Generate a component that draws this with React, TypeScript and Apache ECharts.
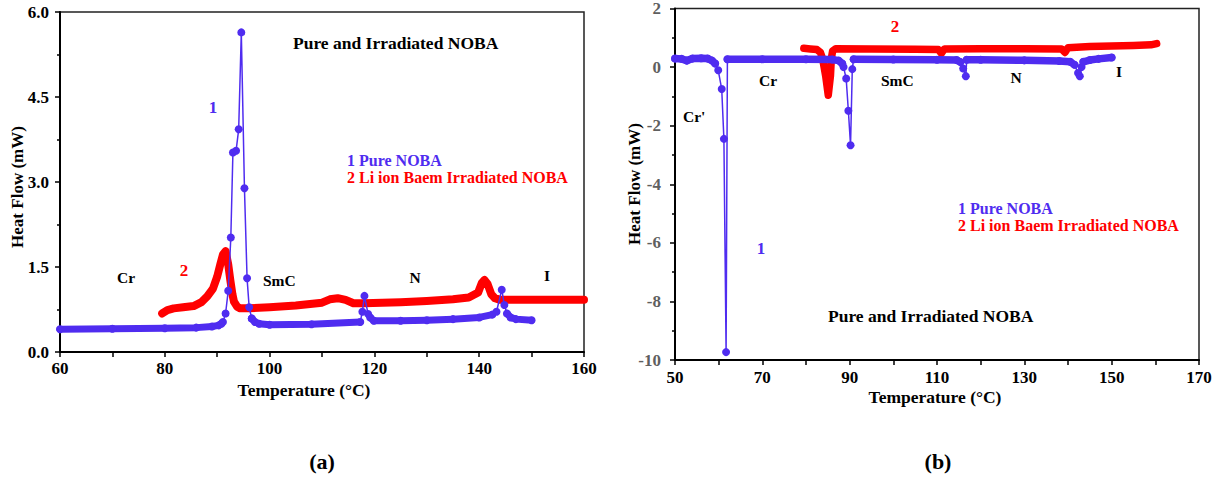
import React, { useEffect, useRef } from "react";
import * as echarts from "echarts";

// ---------- data ----------
// (a) Pure NOBA – baseline segments and transition points
const pureA_seg1 = [[60, 0.40], [70, 0.41], [80, 0.42], [86, 0.43], [89, 0.45], [90.3, 0.47], [90.8, 0.50]];
const pureA_peak1 = [[91.1, 0.53], [91.6, 0.68], [92.1, 1.08], [92.6, 2.02], [93.0, 3.52], [93.6, 3.55], [94.1, 3.93], [94.6, 5.64], [95.2, 2.89], [95.7, 1.30], [96.1, 0.79], [96.6, 0.59]];
const pureA_seg2 = [[96.6, 0.59], [97.2, 0.53], [98, 0.50], [100, 0.48], [108, 0.49], [117.3, 0.53]];
const pureA_peak2 = [[117.7, 0.71], [118.1, 0.99], [118.8, 0.67]];
const pureA_seg3 = [[119.2, 0.61], [119.9, 0.55], [125, 0.55], [130, 0.56], [135, 0.58], [140, 0.61], [142.5, 0.66]];
const pureA_peak3 = [[143.3, 0.71], [144.3, 1.10], [144.8, 0.83]];
const pureA_seg4 = [[145.3, 0.68], [146, 0.61], [147, 0.58], [150, 0.56]];

// (a) Li ion beam irradiated NOBA
const irrA = [[79.5, 0.68], [80.5, 0.74], [81.7, 0.77], [83.5, 0.79], [85.5, 0.81], [87, 0.88], [88.1, 0.98], [89.2, 1.12], [90, 1.33], [90.6, 1.55], [91.1, 1.72], [91.6, 1.78], [92.1, 1.55], [92.5, 1.27], [92.9, 1.02], [93.2, 0.89], [93.8, 0.80], [94.4, 0.77], [96, 0.77], [100, 0.79], [105, 0.82], [110, 0.87], [111.5, 0.93], [113, 0.95], [114.5, 0.92], [116, 0.86], [118, 0.86], [125, 0.88], [130, 0.90], [135, 0.93], [138, 0.96], [139.8, 1.05], [140.5, 1.22], [141, 1.27], [141.6, 1.20], [142.3, 1.02], [143, 0.95], [144, 0.92], [150, 0.92], [160, 0.92]];

// (b) Pure NOBA
const pureB_seg1 = [[50, 0.29], [51.5, 0.28], [52.7, 0.22], [54, 0.29], [56, 0.30], [57.5, 0.29], [58.5, 0.22], [59.2, 0.12]];
const pureB_peak1 = [[59.9, -0.11], [60.7, -0.75], [61.2, -2.45], [61.7, -9.73]];
const pureB_seg2 = [[62.0, 0.27], [70, 0.27], [80, 0.27], [86, 0.26], [87.5, 0.22], [88.3, 0.12]];
const pureB_peak2 = [[88.6, 0.0], [89.2, -0.39], [89.7, -1.49], [90.2, -2.67], [90.6, -0.07]];
const pureB_seg3 = [[90.9, 0.27], [100, 0.26], [110, 0.25], [114.5, 0.24], [115.4, 0.17]];
const pureB_peak3 = [[116.0, -0.05], [116.6, -0.31]];
const pureB_seg4 = [[116.8, 0.25], [120, 0.25], [130, 0.23], [138, 0.21], [140.5, 0.18], [141.5, 0.08]];
const pureB_peak4 = [[142.3, -0.2], [142.7, -0.31], [143.1, 0.0]];
const pureB_seg5 = [[143.5, 0.18], [145, 0.24], [147, 0.28], [150, 0.33]];

// (b) Li ion beam irradiated NOBA
const irrB = [[79.5, 0.64], [81, 0.62], [82.5, 0.60], [83.3, 0.50], [83.8, 0.29], [84.5, -0.3], [85.1, -0.96], [85.6, -0.3], [85.8, 0.29], [86.1, 0.55], [86.8, 0.63], [95, 0.62], [105, 0.61], [110.3, 0.60], [111, 0.47], [111.7, 0.62], [120, 0.63], [130, 0.63], [138.5, 0.62], [139.3, 0.50], [140, 0.66], [145, 0.70], [150, 0.72], [155, 0.74], [159, 0.76], [160.3, 0.80]];

// axis ranges / ticks
const axisA = { xMin: 60, xMax: 160, xStep: 20, yMin: 0, yMax: 6, yStep: 1.5 };
const axisB = { xMin: 50, xMax: 170, xStep: 20, yMin: -10, yMax: 2, yStep: 2 };

const seriesNames = ["1 Pure NOBA", "2 Li ion Baem Irradiated NOBA"];

const BLUE = "#4F2CF0";
const RED = "#FF0000";
const SERIF = "'Liberation Serif', 'Times New Roman', serif";

function xAxisCfg(grid: number, a: any) {
  return {
    type: "value",
    gridIndex: grid,
    min: a.xMin,
    max: a.xMax,
    interval: a.xStep,
    axisLine: { onZero: false, lineStyle: { color: "#000", width: 2 } },
    axisTick: { length: 5, lineStyle: { color: "#000", width: 1.5 } },
    minorTick: { show: true, splitNumber: 2, length: 5, lineStyle: { color: "#000", width: 1.5 } },
    splitLine: { show: false },
    axisLabel: { fontFamily: SERIF, fontWeight: "bold", fontSize: 17, color: "#000", margin: grid === 0 ? 8 : 9 },
  };
}

function yAxisCfg(grid: number, a: any, color: string, fmt: (v: number) => string) {
  return {
    type: "value",
    gridIndex: grid,
    min: a.yMin,
    max: a.yMax,
    interval: a.yStep,
    axisLine: { show: true, onZero: false, lineStyle: { color: "#000", width: 2 } },
    axisTick: { show: true, length: 5, lineStyle: { color: "#000", width: 1.5 } },
    minorTick: { show: true, splitNumber: 2, length: 3, lineStyle: { color: "#000", width: 1.5 } },
    splitLine: { show: false },
    axisLabel: { fontFamily: SERIF, fontWeight: "bold", fontSize: 17, color, margin: grid === 0 ? 11 : 14, formatter: fmt },
  };
}

function band(data: number[][], grid: number, color: string, width: number, name: string, z: number) {
  return {
    type: "line",
    name,
    xAxisIndex: grid,
    yAxisIndex: grid,
    data,
    symbol: "none",
    smooth: false,
    z,
    lineStyle: { color, width, cap: "round", join: "round" },
  };
}

function markers(data: number[][], grid: number, name: string) {
  return {
    type: "line",
    name,
    xAxisIndex: grid,
    yAxisIndex: grid,
    data,
    symbol: "circle",
    symbolSize: 8,
    showSymbol: true,
    showAllSymbol: true,
    z: 5,
    itemStyle: { color: BLUE },
    lineStyle: { color: BLUE, width: 1.5 },
  };
}

function txt(text: string, x: number, y: number, size: number, fill: string, align = "left", rotation = 0) {
  return {
    type: "text",
    x,
    y,
    rotation,
    z: 10,
    style: {
      text,
      fill,
      font: `bold ${size}px ${SERIF}`,
      textAlign: align,
      textVerticalAlign: "middle",
      align,
      verticalAlign: "middle",
    },
  };
}

export default function App() {
  const ref = useRef<HTMLDivElement>(null);
  useEffect(() => {
    if (!ref.current) return;
    const chart = echarts.init(ref.current, undefined, { renderer: "svg" });

    const segsA = [pureA_seg1, pureA_seg2, pureA_seg3, pureA_seg4];
    const allA = [...pureA_seg1, ...pureA_peak1, ...pureA_seg2, ...pureA_peak2, ...pureA_seg3, ...pureA_peak3, ...pureA_seg4];
    const segsB = [pureB_seg1, pureB_seg2, pureB_seg3, pureB_seg4, pureB_seg5];
    const allB = [...pureB_seg1, ...pureB_peak1, ...pureB_seg2, ...pureB_peak2, ...pureB_seg3, ...pureB_peak3, ...pureB_seg4, ...pureB_peak4, ...pureB_seg5];

    const option: any = {
      animation: false,
      backgroundColor: "#fff",
      grid: [
        { left: 60, top: 12, width: 524, height: 340, show: true, borderColor: "#222", borderWidth: 1.5, backgroundColor: "transparent" },
        { left: 675, top: 5, width: 524, height: 355, show: true, borderColor: "#222", borderWidth: 1.5, backgroundColor: "transparent" },
      ],
      xAxis: [xAxisCfg(0, axisA), xAxisCfg(1, axisB)],
      yAxis: [
        yAxisCfg(0, axisA, "#000", (v: number) => v.toFixed(1)),
        yAxisCfg(1, axisB, "#5f5f5f", (v: number) => String(v)),
      ],
      series: [
        band(irrA, 0, RED, 8, seriesNames[1], 2),
        ...segsA.map((s) => band(s, 0, BLUE, 7, seriesNames[0], 3)),
        markers(allA, 0, seriesNames[0]),
        band(irrB, 1, RED, 7.5, seriesNames[1], 2),
        ...segsB.map((s) => band(s, 1, BLUE, 7.5, seriesNames[0], 3)),
        markers(allB, 1, seriesNames[0]),
      ],
      graphic: [
        // (a)
        txt("Pure and Irradiated NOBA", 293, 43, 17.5, "#000"),
        txt("1", 213, 107, 17, BLUE, "center"),
        txt(seriesNames[0], 347, 160, 16, BLUE),
        txt(seriesNames[1], 347, 177, 16, RED),
        txt("Cr", 126, 277, 15.5, "#000", "center"),
        txt("2", 184, 270, 17, RED, "center"),
        txt("SmC", 263, 280, 15.5, "#000"),
        txt("N", 415, 277, 15.5, "#000", "center"),
        txt("I", 547, 275, 15.5, "#000", "center"),
        txt("Heat Flow (mW)", 17, 187, 17, "#000", "center", Math.PI / 2),
        txt("Temperature (°C)", 304, 390, 17.5, "#000", "center"),
        txt("(a)", 322, 461, 22, "#000", "center"),
        // (b)
        txt("2", 895, 26, 17, RED, "center"),
        txt("Cr'", 683, 116, 15.5, "#000"),
        txt("Cr", 759, 80, 15.5, "#000"),
        txt("SmC", 881, 80, 15.5, "#000"),
        txt("N", 1016, 77, 15.5, "#000", "center"),
        txt("I", 1119, 71, 15.5, "#000", "center"),
        txt("1", 761, 248, 17, BLUE, "center"),
        txt(seriesNames[0], 958, 208, 16, BLUE),
        txt(seriesNames[1], 958, 225, 16, RED),
        txt("Pure and Irradiated NOBA", 828, 316, 17.5, "#000"),
        txt("Heat Flow (mW)", 634, 184, 17, "#000", "center", Math.PI / 2),
        txt("Temperature (°C)", 935, 397, 17.5, "#000", "center"),
        txt("(b)", 938, 461, 22, "#000", "center"),
      ],
    };
    chart.setOption(option);
    return () => chart.dispose();
  }, []);
  return (
    <div
      ref={ref}
      style={{ position: "fixed", left: 0, top: 0, width: 1221, height: 477, background: "#fff" }}
    />
  );
}
